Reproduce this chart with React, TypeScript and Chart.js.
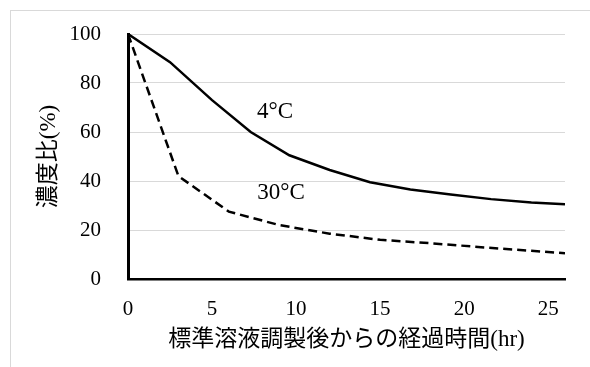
import React, { useEffect, useRef } from "react";
import { Chart, registerables } from "chart.js";

Chart.register(...registerables);

// 4°C series (hours, concentration ratio %)
const hours4 = [0, 2.5, 5, 7.3, 9.6, 12, 14.4, 16.8, 19.2, 21.6, 24, 26];
const ratio4 = [100, 88.5, 73, 60, 50.5, 44.5, 39.5, 36.5, 34.5, 32.6, 31.2, 30.5];

// 30°C series
const hours30 = [0, 3, 6, 9, 12, 15, 18, 21, 24, 26];
const ratio30 = [100, 42, 27.5, 22, 18.5, 16, 14.6, 13, 11.5, 10.5];

const xTicks = [0, 5, 10, 15, 20, 25];
const yTicks = [0, 20, 40, 60, 80, 100];

const labelTexts = ["4°C", "30°C"];
const labelX = [8.75, 9.1];
const labelY = [68.3, 35.3];

const xTitle = "標準溶液調製後からの経過時間(hr)";
const yTitle = "濃度比(%)";

const SERIF = "'Liberation Serif', 'Noto Sans CJK JP', serif";

export default function App() {
  const ref = useRef<HTMLCanvasElement>(null);

  useEffect(() => {
    if (!ref.current) return;
    const labelPlugin = {
      id: "curveLabels",
      afterDatasetsDraw(chart: any) {
        const { ctx, scales } = chart;
        ctx.save();
        ctx.font = `23px ${SERIF}`;
        ctx.fillStyle = "#000";
        ctx.textAlign = "center";
        ctx.textBaseline = "middle";
        labelTexts.forEach((t, i) => {
          ctx.fillText(t, scales.x.getPixelForValue(labelX[i]), scales.y.getPixelForValue(labelY[i]));
        });
        ctx.restore();
      },
    };
    const chart = new Chart(ref.current, {
      type: "line",
      data: {
        datasets: [
          {
            label: "4°C",
            data: hours4.map((h, i) => ({ x: h, y: ratio4[i] })),
            borderColor: "#000",
            borderWidth: 2.5,
            pointRadius: 0,
            tension: 0,
            fill: false,
          },
          {
            label: "30°C",
            data: hours30.map((h, i) => ({ x: h, y: ratio30[i] })),
            borderColor: "#000",
            borderWidth: 2.5,
            borderDash: [9, 5],
            pointRadius: 0,
            tension: 0,
            fill: false,
          },
        ],
      },
      options: {
        animation: false,
        responsive: false,
        maintainAspectRatio: false,
        layout: { padding: { left: 10, top: 23, right: 46, bottom: 37 } },
        plugins: { legend: { display: false }, tooltip: { enabled: false } },
        scales: {
          x: {
            type: "linear",
            min: 0,
            max: 26,
            afterFit: (s: any) => {
              s.height = 75;
              s.paddingLeft = 0;
              s.paddingRight = 0;
            },
            afterBuildTicks: (s: any) => {
              s.ticks = xTicks.map((v) => ({ value: v }));
            },
            ticks: {
              stepSize: 5,
              includeBounds: false,
              padding: 18,
              color: "#000",
              font: { family: SERIF, size: 21 },
            },
            grid: { display: false, drawTicks: false },
            border: { display: true, color: "#000", width: 2.5 },
            title: {
              display: true,
              text: xTitle,
              color: "#000",
              font: { family: SERIF, size: 23 },
              padding: { top: 0, bottom: 0 },
            },
          },
          y: {
            type: "linear",
            min: 0,
            max: 100,
            afterFit: (s: any) => {
              s.width = 107;
              s.paddingTop = 0;
              s.paddingBottom = 0;
            },
            afterBuildTicks: (s: any) => {
              s.ticks = yTicks.map((v) => ({ value: v }));
            },
            ticks: {
              stepSize: 20,
              padding: 27,
              color: "#000",
              font: { family: SERIF, size: 21 },
            },
            grid: { display: true, drawTicks: false, color: "#d9d9d9", lineWidth: 1 },
            border: { display: true, color: "#000", width: 3 },
            title: {
              display: true,
              text: yTitle,
              color: "#000",
              font: { family: SERIF, size: 23 },
              padding: { top: 14, bottom: 0 },
            },
          },
        },
      },
      plugins: [labelPlugin],
    });
    return () => chart.destroy();
  }, []);

  return (
    <div
      style={{
        position: "fixed",
        left: 0,
        top: 0,
        width: 590,
        height: 367,
        overflow: "hidden",
        background: "#fff",
      }}
    >
      <div
        style={{
          position: "absolute",
          left: 10,
          top: 10,
          width: 600,
          height: 380,
          border: "1px solid #d9d9d9",
          background: "#fff",
        }}
      >
        <canvas ref={ref} width={600} height={380} style={{ display: "block", width: 600, height: 380 }} />
      </div>
    </div>
  );
}
